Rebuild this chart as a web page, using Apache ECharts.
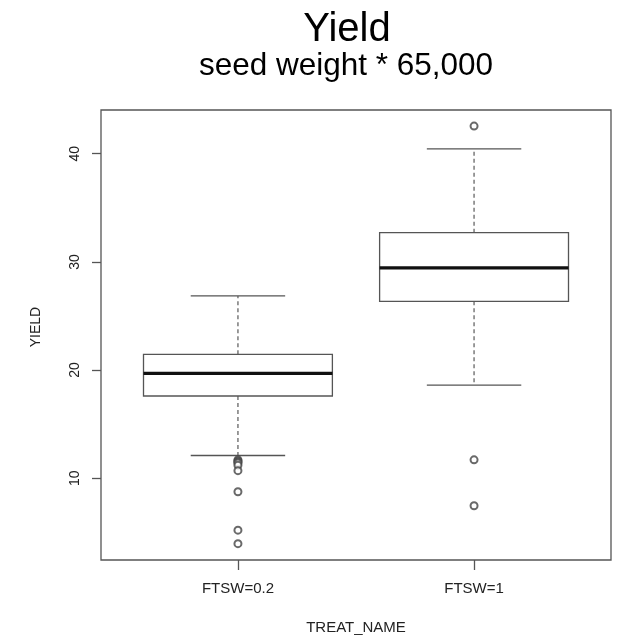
<!DOCTYPE html>
<html>
<head>
<meta charset="utf-8">
<script src="https://cdn.jsdelivr.net/npm/echarts@6/dist/echarts.min.js"></script>
<style>
  html, body { margin: 0; padding: 0; background: #fff; }
  #chart { width: 621px; height: 640px; }
</style>
</head>
<body>
<div id="chart"></div>
<script>
// Yield by treatment: five-number summaries and outliers per group
const categories = ['FTSW=0.2', 'FTSW=1'];
const whiskerLow = [12.1, 18.6];
const quartile1 = [17.6, 26.35];
const medians = [19.7, 29.45];
const quartile3 = [21.45, 32.7];
const whiskerHigh = [26.85, 40.45];
const outliersLow = [11.7, 11.6, 11.5, 11.4, 11.2, 10.7, 8.75, 5.2, 3.95];
const outliersHigh = [42.55, 11.7, 7.45];
const yTicks = [10, 20, 30, 40];

const FONT = '"Liberation Sans", Arial, sans-serif';
const LINE = '#555';

const boxData = categories.map((c, i) => [
  i + 1, whiskerLow[i], quartile1[i], medians[i], quartile3[i], whiskerHigh[i]
]);
const outlierData = []
  .concat(outliersLow.map(v => [1, v]))
  .concat(outliersHigh.map(v => [2, v]));

function renderBox(params, api) {
  const x = api.value(0);
  const pLow = api.coord([x, api.value(1)]);
  const pQ1 = api.coord([x, api.value(2)]);
  const pMed = api.coord([x, api.value(3)]);
  const pQ3 = api.coord([x, api.value(4)]);
  const pHigh = api.coord([x, api.value(5)]);
  const halfBox = api.size([0.4, 0])[0];
  const halfCap = api.size([0.2, 0])[0];
  const cx = pMed[0];
  const dashed = { stroke: '#666', lineWidth: 1.3, lineDash: [4, 3] };
  const solid = { stroke: LINE, lineWidth: 1.3 };
  return {
    type: 'group',
    children: [
      { type: 'line', shape: { x1: cx, y1: pQ3[1], x2: cx, y2: pHigh[1] }, style: dashed },
      { type: 'line', shape: { x1: cx, y1: pQ1[1], x2: cx, y2: pLow[1] }, style: dashed },
      { type: 'line', shape: { x1: cx - halfCap, y1: pHigh[1], x2: cx + halfCap, y2: pHigh[1] }, style: solid },
      { type: 'line', shape: { x1: cx - halfCap, y1: pLow[1], x2: cx + halfCap, y2: pLow[1] }, style: solid },
      { type: 'rect', shape: { x: cx - halfBox, y: pQ3[1], width: halfBox * 2, height: pQ1[1] - pQ3[1] },
        style: { fill: '#fff', stroke: LINE, lineWidth: 1.3 } },
      { type: 'line', shape: { x1: cx - halfBox, y1: pMed[1], x2: cx + halfBox, y2: pMed[1] },
        style: { stroke: '#111', lineWidth: 3.2 } }
    ]
  };
}

const chart = echarts.init(document.getElementById('chart'), null, { renderer: 'canvas' });
chart.setOption({
  animation: false,
  backgroundColor: '#fff',
  textStyle: { fontFamily: FONT },
  grid: {
    left: 101, top: 110, width: 510, height: 453,
    show: true, borderColor: LINE, borderWidth: 1.3, backgroundColor: 'transparent'
  },
  graphic: [
    { type: 'text', x: 347, y: 30,
      style: { text: 'Yield', font: '40px ' + FONT, fill: '#000', textAlign: 'center', textVerticalAlign: 'middle' } },
    { type: 'text', x: 346, y: 66,
      style: { text: 'seed weight * 65,000', font: '31.5px ' + FONT, fill: '#000', textAlign: 'center', textVerticalAlign: 'middle' } },
    { type: 'text', x: 36, y: 327, rotation: Math.PI / 2,
      style: { text: 'YIELD', font: '14px ' + FONT, fill: '#222', textAlign: 'center', textVerticalAlign: 'middle' } }
  ],
  xAxis: {
    type: 'value', min: 0.42, max: 2.58,
    name: 'TREAT_NAME', nameLocation: 'middle', nameGap: 60,
    nameTextStyle: { fontSize: 15, color: '#222', fontFamily: FONT },
    axisLine: { show: false },
    splitLine: { show: false },
    axisTick: { show: true, inside: false, length: 10, customValues: [1, 2], lineStyle: { color: LINE, width: 1.3 } },
    axisLabel: {
      show: true, customValues: [1, 2], margin: 21, fontSize: 15, color: '#222', fontFamily: FONT,
      formatter: v => categories[Math.round(v) - 1] || ''
    }
  },
  yAxis: {
    type: 'value', min: 2.44, max: 44.04,
    axisLine: { show: false },
    splitLine: { show: false },
    axisTick: { show: true, inside: false, length: 9, customValues: yTicks, lineStyle: { color: LINE, width: 1.3 } },
    axisLabel: {
      show: true, customValues: yTicks, rotate: 90, margin: 19, fontSize: 14, color: '#222', fontFamily: FONT
    }
  },
  series: [
    {
      type: 'custom',
      renderItem: renderBox,
      data: boxData,
      encode: { x: 0, y: [1, 2, 3, 4, 5] },
      clip: false,
      z: 2
    },
    {
      type: 'scatter',
      data: outlierData,
      symbol: 'emptyCircle',
      symbolSize: 7,
      itemStyle: { color: '#444', borderColor: '#444', borderWidth: 1.1 },
      z: 3
    }
  ]
});
</script>
</body>
</html>
